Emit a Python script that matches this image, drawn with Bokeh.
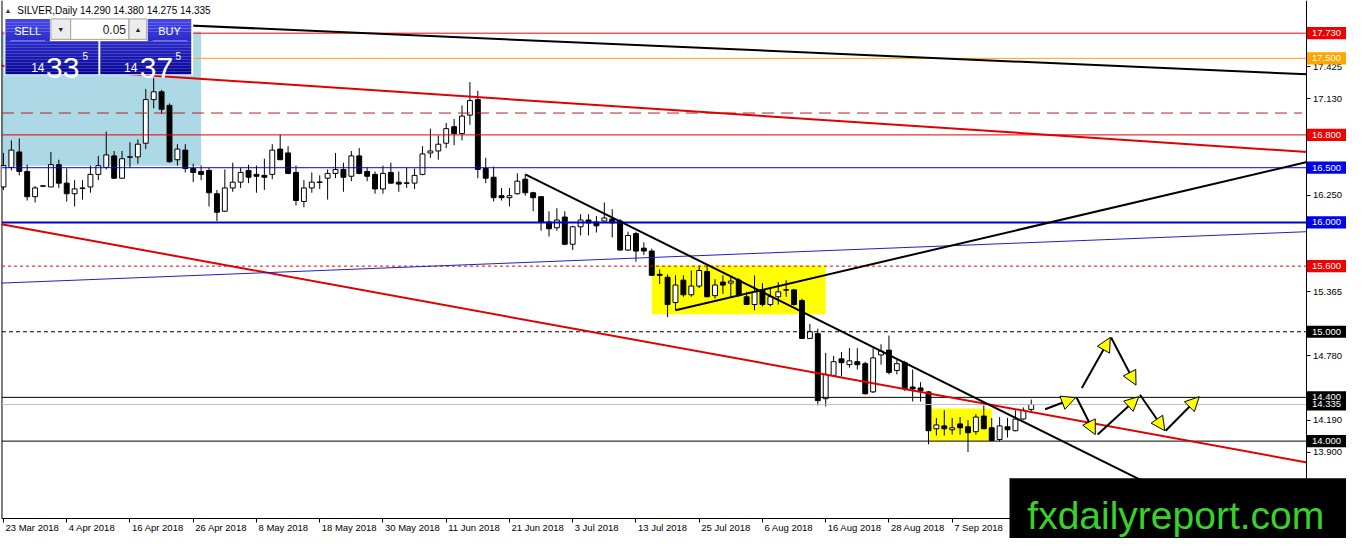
import numpy as np
from bokeh.plotting import figure
from bokeh.models import (Range1d, FixedTicker, PrintfTickFormatter, Label, Arrow,
                          NormalHead, BoxAnnotation)
from bokeh.embed import file_html
from bokeh.resources import INLINE
from bokeh.core.properties import value

# ---------------- data ----------------
title_text = "SILVER,Daily  14.290 14.380 14.275 14.335"
date_labels = ["23 Mar 2018", "4 Apr 2018", "16 Apr 2018", "26 Apr 2018", "8 May 2018",
               "18 May 2018", "30 May 2018", "11 Jun 2018", "21 Jun 2018", "3 Jul 2018",
               "13 Jul 2018", "25 Jul 2018", "6 Aug 2018", "16 Aug 2018", "28 Aug 2018",
               "7 Sep 2018"]
date_tick_index = [0, 8, 16, 24, 32, 40, 48, 56, 64, 72, 80, 88, 96, 104, 112, 120]

opens = [16.324, 16.502, 16.644, 16.466, 16.235, 16.330, 16.324, 16.528, 16.359, 16.262,
         16.310, 16.324, 16.439, 16.502, 16.608, 16.404, 16.595, 16.599, 16.724, 17.123,
         17.194, 17.070, 16.573, 16.661, 16.493, 16.466, 16.475, 16.262, 16.102, 16.315,
         16.368, 16.475, 16.439, 16.430, 16.439, 16.670, 16.635, 16.457, 16.191, 16.315,
         16.365, 16.404, 16.448, 16.484, 16.422, 16.608, 16.466, 16.439, 16.306, 16.457,
         16.368, 16.357, 16.359, 16.439, 16.635, 16.653, 16.724, 16.875, 16.812, 16.981,
         17.123, 16.493, 16.413, 16.244, 16.226, 16.262, 16.395, 16.271, 16.235, 16.004,
         15.951, 16.049, 15.800, 15.960, 16.022, 16.004, 16.013, 16.031, 16.013, 15.747,
         15.898, 15.764, 15.738, 15.525, 15.498, 15.267, 15.472, 15.338, 15.418, 15.551,
         15.330, 15.454, 15.445, 15.472, 15.320, 15.249, 15.383, 15.249, 15.320, 15.380,
         15.383, 15.285, 14.939, 14.983, 14.388, 14.601, 14.752, 14.699, 14.726, 14.708,
         14.450, 14.788, 14.832, 14.646, 14.717, 14.495, 14.486, 14.450, 14.113, 14.139,
         14.104, 14.157, 14.131, 14.086, 14.229, 14.122, 14.015, 14.131, 14.095, 14.202,
         14.290]
highs = [16.635, 16.750, 16.768, 16.528, 16.333, 16.340, 16.644, 16.573, 16.493, 16.386,
         16.386, 16.519, 16.608, 16.830, 16.653, 16.653, 16.733, 16.759, 17.221, 17.319,
         17.212, 17.088, 16.715, 16.715, 16.537, 16.519, 16.500, 16.297, 16.484, 16.546,
         16.502, 16.528, 16.519, 16.582, 16.715, 16.804, 16.697, 16.519, 16.386, 16.457,
         16.430, 16.484, 16.635, 16.546, 16.653, 16.679, 16.502, 16.466, 16.519, 16.546,
         16.466, 16.502, 16.493, 16.697, 16.857, 16.795, 16.910, 16.946, 17.070, 17.283,
         17.203, 16.590, 16.510, 16.315, 16.315, 16.448, 16.439, 16.280, 16.240, 16.102,
         16.129, 16.102, 15.969, 16.075, 16.075, 16.058, 16.182, 16.120, 16.030, 15.915,
         15.915, 15.818, 15.760, 15.570, 15.525, 15.516, 15.516, 15.560, 15.605, 15.605,
         15.480, 15.516, 15.498, 15.490, 15.365, 15.516, 15.445, 15.410, 15.454, 15.472,
         15.392, 15.303, 15.072, 15.028, 14.806, 14.779, 14.814, 14.850, 14.850, 14.726,
         14.850, 14.886, 14.965, 14.743, 14.734, 14.655, 14.539, 14.459, 14.211, 14.282,
         14.211, 14.220, 14.193, 14.246, 14.326, 14.211, 14.220, 14.211, 14.282, 14.308,
         14.380]
lows = [16.297, 16.475, 16.430, 16.200, 16.182, 16.325, 16.324, 16.315, 16.191, 16.146,
        16.209, 16.271, 16.386, 16.484, 16.400, 16.400, 16.502, 16.537, 16.670, 17.043,
        16.990, 16.546, 16.519, 16.457, 16.368, 16.386, 16.146, 16.013, 16.095, 16.280,
        16.315, 16.359, 16.271, 16.297, 16.395, 16.570, 16.440, 16.155, 16.138, 16.271,
        16.306, 16.209, 16.404, 16.280, 16.377, 16.440, 16.377, 16.262, 16.262, 16.355,
        16.280, 16.315, 16.306, 16.430, 16.590, 16.573, 16.679, 16.706, 16.750, 16.892,
        16.404, 16.359, 16.191, 16.200, 16.146, 16.255, 16.244, 16.102, 15.924, 15.871,
        15.924, 15.791, 15.747, 15.880, 15.880, 15.907, 16.010, 15.862, 15.740, 15.740,
        15.640, 15.702, 15.510, 15.436, 15.134, 15.196, 15.320, 15.320, 15.400, 15.315,
        15.303, 15.347, 15.320, 15.320, 15.245, 15.196, 15.232, 15.232, 15.249, 15.320,
        15.240, 14.935, 14.935, 14.326, 14.317, 14.592, 14.592, 14.672, 14.655, 14.425,
        14.440, 14.699, 14.610, 14.610, 14.459, 14.362, 14.362, 13.971, 14.051, 14.051,
        14.060, 14.060, 13.900, 14.060, 14.110, 14.000, 13.997, 14.033, 14.090, 14.195,
        14.275]
closes = [16.519, 16.661, 16.466, 16.235, 16.315, 16.335, 16.528, 16.359, 16.262, 16.306,
          16.315, 16.439, 16.519, 16.617, 16.404, 16.582, 16.600, 16.715, 17.123, 17.194,
          17.034, 16.555, 16.670, 16.493, 16.457, 16.439, 16.271, 16.093, 16.315, 16.368,
          16.457, 16.413, 16.422, 16.413, 16.661, 16.573, 16.448, 16.200, 16.315, 16.368,
          16.370, 16.448, 16.484, 16.413, 16.608, 16.448, 16.422, 16.306, 16.448, 16.359,
          16.350, 16.362, 16.430, 16.626, 16.653, 16.715, 16.857, 16.812, 16.972, 17.114,
          16.484, 16.404, 16.226, 16.226, 16.244, 16.377, 16.271, 16.226, 16.004, 15.942,
          16.022, 15.800, 15.960, 16.022, 15.995, 15.969, 16.040, 15.995, 15.747, 15.880,
          15.738, 15.738, 15.516, 15.516, 15.249, 15.427, 15.338, 15.418, 15.560, 15.320,
          15.427, 15.427, 15.463, 15.338, 15.249, 15.365, 15.249, 15.320, 15.365, 15.385,
          15.249, 14.939, 15.001, 14.370, 14.610, 14.726, 14.717, 14.734, 14.699, 14.433,
          14.761, 14.823, 14.628, 14.708, 14.477, 14.477, 14.459, 14.095, 14.148, 14.113,
          14.122, 14.122, 14.077, 14.220, 14.113, 14.006, 14.139, 14.104, 14.202, 14.282,
          14.335]

price_ticks = [17.425, 17.130, 16.250, 15.365, 14.780, 14.190, 13.900]

level_prices = [17.730, 17.500, 17.000, 16.800, 16.500, 16.000, 15.600, 15.000, 14.400, 14.335, 14.000]
level_texts = ["17.730", "17.500", "", "16.800", "16.500", "16.000", "15.600", "15.000", "14.400", "14.335", "14.000"]

# drawn objects: (bar index, price) pairs
trend_x0 = [19.0, -0.25, -0.25, -0.25, 66.0, 85.0]
trend_y0 = [17.815, 17.433, 15.983, 15.445, 16.439, 15.196]
trend_x1 = [164.9, 164.9, 164.9, 164.9, 160.0, 164.9]
trend_y1 = [17.354, 16.644, 13.805, 15.915, 13.065, 16.552]

zone_left = [-0.25, 82.0, 117.1]
zone_right = [25.0, 104.0, 125.0]
zone_top = [17.745, 15.605, 14.299]
zone_bottom = [16.519, 15.161, 14.004]

proj_x0 = [131.75, 135.75, 138.4, 143.75, 147.0, 136.4, 140.1]
proj_y0 = [14.291, 14.397, 14.060, 14.424, 14.095, 14.486, 14.948]
proj_x1 = [135.6, 138.1, 143.6, 146.9, 151.25, 140.0, 143.25]
proj_y1 = [14.397, 14.060, 14.406, 14.095, 14.406, 14.948, 14.512]

# ---------------- geometry / styling ----------------
FONT = "Liberation Sans"

def px_x(px):          # reference-picture pixel -> bar index
    return (px - 3.0) / 8.0

def px_y(py):          # reference-picture pixel -> price
    return 18.029 - py * 0.00888

XL, XR = px_x(0), px_x(1362)          # whole canvas
YB, YT = px_y(554), px_y(0)
AX_X = px_x(1322)                     # price-scale line
AX_Y = px_y(533)                      # time-scale line
X0 = px_x(1.5)

level_colors = ["#FF0000", "#FFA500", "#B22222", "#E00000", "#0000FF", "#0000CD",
                "#E00000", "#000000", "#000000", "#C0C0C0", "#000000"]
level_bg = ["#F00000", "#FFA500", None, "#F00000", "#0000F0", "#0000F0",
            "#F00000", "#000000", "#000000", "#000000", "#000000"]
level_widths = [1, 1, 1, 1, 1, 2, 1, 1, 1, 1, 1]
level_dash = ["solid", "solid", "12 7", "solid", "solid", "solid", "3 3", "4 3",
              "solid", "solid", "solid"]
trend_colors = ["#000000", "#E00000", "#E00000", "#2020C0", "#000000", "#000000"]
trend_widths = [2, 2, 2, 1, 2, 2]
zone_colors = ["#ADD8E6", "#FFFF00", "#FFFF00"]

p = figure(width=1346, height=538, x_range=Range1d(XL, XR), y_range=Range1d(YB, YT),
           output_backend="svg", toolbar_location=None, y_axis_location="right",
           min_border_left=0, min_border_top=0, min_border_right=0, min_border_bottom=0)
p.grid.visible = False
p.outline_line_color = None
p.background_fill_color = "white"
p.border_fill_color = "white"

# axes (Bokeh axes pinned at the chart's scale lines)
p.yaxis.ticker = FixedTicker(ticks=price_ticks, minor_ticks=[])
p.yaxis.formatter = PrintfTickFormatter(format="%.3f")
p.yaxis.fixed_location = AX_X
p.yaxis.bounds = (AX_Y, YT)
p.xaxis.ticker = FixedTicker(ticks=date_tick_index, minor_ticks=[])
p.xaxis.major_label_overrides = {i: "" for i in date_tick_index}
p.xaxis.fixed_location = AX_Y
p.xaxis.bounds = (X0, AX_X)
for ax in (p.xaxis[0], p.yaxis[0]):
    ax.major_label_text_font = FONT
    ax.major_label_text_font_size = "9.5px"
    ax.major_label_text_color = "black"
    ax.axis_line_color = "black"
    ax.major_tick_line_color = "black"
    ax.major_tick_out = 4
    ax.major_tick_in = 0
    ax.minor_tick_out = 0
    ax.major_label_standoff = 2

# date labels, left-aligned at their ticks as in the terminal
p.text(x=date_tick_index, y=[AX_Y] * len(date_tick_index), text=date_labels,
       x_offset=2, y_offset=4, text_font=value(FONT), text_font_size="9.5px",
       text_color="black", text_align="left", text_baseline="top")

# background zones
p.quad(left=zone_left, right=zone_right, top=zone_top, bottom=zone_bottom,
       fill_color=zone_colors, line_color=None)

# left border of the chart window
p.segment(x0=[X0], y0=[AX_Y], x1=[X0], y1=[YT], line_color="black", line_width=1)

# candles
idx = np.arange(len(opens))
o = np.array(opens); c = np.array(closes); h = np.array(highs); l = np.array(lows)
up = c >= o
p.segment(x0=idx, y0=h, x1=idx, y1=l, line_color="black", line_width=1)
p.vbar(x=idx[up], width=0.62, top=c[up], bottom=o[up], fill_color="white", line_color="black", line_width=1)
p.vbar(x=idx[~up], width=0.62, top=o[~up], bottom=c[~up], fill_color="black", line_color="black", line_width=1)

# horizontal levels
for lv, col, w, d in zip(level_prices, level_colors, level_widths, level_dash):
    x_end = px_x(1317) if d == "12 7" else AX_X
    p.segment(x0=[X0], y0=[lv], x1=[x_end], y1=[lv], line_color=col, line_width=w, line_dash=d)

# trend lines (clipped at the price-scale line)
tx1, ty1 = [], []
for xa, ya, xb, yb in zip(trend_x0, trend_y0, trend_x1, trend_y1):
    if xb > AX_X:
        yb = ya + (yb - ya) * (AX_X - xa) / (xb - xa); xb = AX_X
    if yb < AX_Y:
        xb = xa + (xb - xa) * (AX_Y - ya) / (yb - ya); yb = AX_Y
    tx1.append(xb); ty1.append(yb)
for xa, ya, xb, yb, col, w in zip(trend_x0, trend_y0, tx1, ty1, trend_colors, trend_widths):
    p.segment(x0=[xa], y0=[ya], x1=[xb], y1=[yb], line_color=col, line_width=w)

# projected zig-zag arrows
for xa, ya, xb, yb in zip(proj_x0, proj_y0, proj_x1, proj_y1):
    p.add_layout(Arrow(end=NormalHead(size=14, fill_color="#FFFF00", line_color="black", line_width=1),
                       x_start=xa, y_start=ya, x_end=xb, y_end=yb,
                       line_color="black", line_width=2))

# ---------------- trade panel (decoration) ----------------
p.quad(left=[px_x(4)], right=[px_x(195)], top=[px_y(18)], bottom=[px_y(77)],
       fill_color="white", line_color=None)
boxes = [(5, 50, 19, 42), (149, 193, 19, 42), (5, 99, 42, 76), (101, 193, 42, 76)]
gl, gr, gt, gb, gc = [], [], [], [], []
top_rgb = np.array([70, 70, 235]); bot_rgb = np.array([5, 5, 150])
for (x0, x1, y0, y1) in boxes:
    n = max(4, int((y1 - y0) / 3))
    for k in range(n):
        ya = y0 + (y1 - y0) * k / n
        yb = y0 + (y1 - y0) * (k + 1) / n
        t = ((ya + yb) / 2 - 19) / (76 - 19)
        rgb = (top_rgb + (bot_rgb - top_rgb) * t).astype(int)
        gl.append(px_x(x0)); gr.append(px_x(x1)); gt.append(px_y(ya)); gb.append(px_y(yb))
        gc.append("#%02x%02x%02x" % tuple(rgb))
p.quad(left=gl, right=gr, top=gt, bottom=gb, fill_color=gc, line_color=None)
p.segment(x0=[px_x(10), px_x(154)], y0=[px_y(41.5)] * 2, x1=[px_x(45), px_x(189)], y1=[px_y(41.5)] * 2,
          line_color="#8a8aff", line_width=1)
p.quad(left=[px_x(51), px_x(71), px_x(130)], right=[px_x(71), px_x(130), px_x(148)],
       top=[px_y(19)] * 3, bottom=[px_y(40)] * 3,
       fill_color=["#ececec", "white", "#ececec"], line_color="#a0a0a0", line_width=1)

def ptext(x, y, s, size, color="white", align="left", baseline="middle", font=FONT):
    p.text(x=[px_x(x)], y=[px_y(y)], text=[s], text_font=value(font), text_font_size=size,
           text_color=color, text_align=align, text_baseline=baseline)

ptext(27.5, 31, "SELL", "11px", align="center")
ptext(171, 31, "BUY", "11px", align="center")
ptext(61, 30, "▼", "7px", color="#202020", align="center")
ptext(139, 30, "▲", "7px", color="#202020", align="center")
ptext(127, 30, "0.05", "12px", color="#202020", align="right")
ptext(31, 69, "14", "12px", baseline="alphabetic")
ptext(46, 70, "33", "30px", baseline="alphabetic")
ptext(83, 57, "5", "10px", baseline="alphabetic")
ptext(125, 69, "14", "12px", baseline="alphabetic")
ptext(141, 70, "37", "30px", baseline="alphabetic")
ptext(177, 57, "5", "10px", baseline="alphabetic")

# header
ptext(4, 10.5, "▲", "7px", color="#303030")
ptext(17, 10.5, title_text, "10px", color="black")

# right-hand price labels: all boxes first, then all texts
half = 6.3 * 0.00888
for lv, txt, bg in zip(level_prices, level_texts, level_bg):
    if txt:
        p.add_layout(BoxAnnotation(left=AX_X, right=XR, top=lv + half, bottom=lv - half,
                                   fill_color=bg, fill_alpha=1.0, line_color=None))
for lv, txt in zip(level_prices, level_texts):
    if txt:
        p.add_layout(Label(x=AX_X, y=lv, x_offset=5, text=txt, text_color="white",
                           text_font=FONT, text_font_size="9.5px", text_align="left",
                           text_baseline="middle"))

# watermark
p.add_layout(BoxAnnotation(left=px_x(1021), right=XR, top=px_y(492), bottom=YB,
                           fill_color="black", fill_alpha=1.0, line_color=None))
p.add_layout(Label(x=px_x(1039), y=px_y(530), text="fxdailyreport.com", text_color="#3AD12C",
                   text_font=FONT, text_font_size="39px", text_align="left",
                   text_baseline="alphabetic"))

open("out.html", "w").write(file_html(p, INLINE))
